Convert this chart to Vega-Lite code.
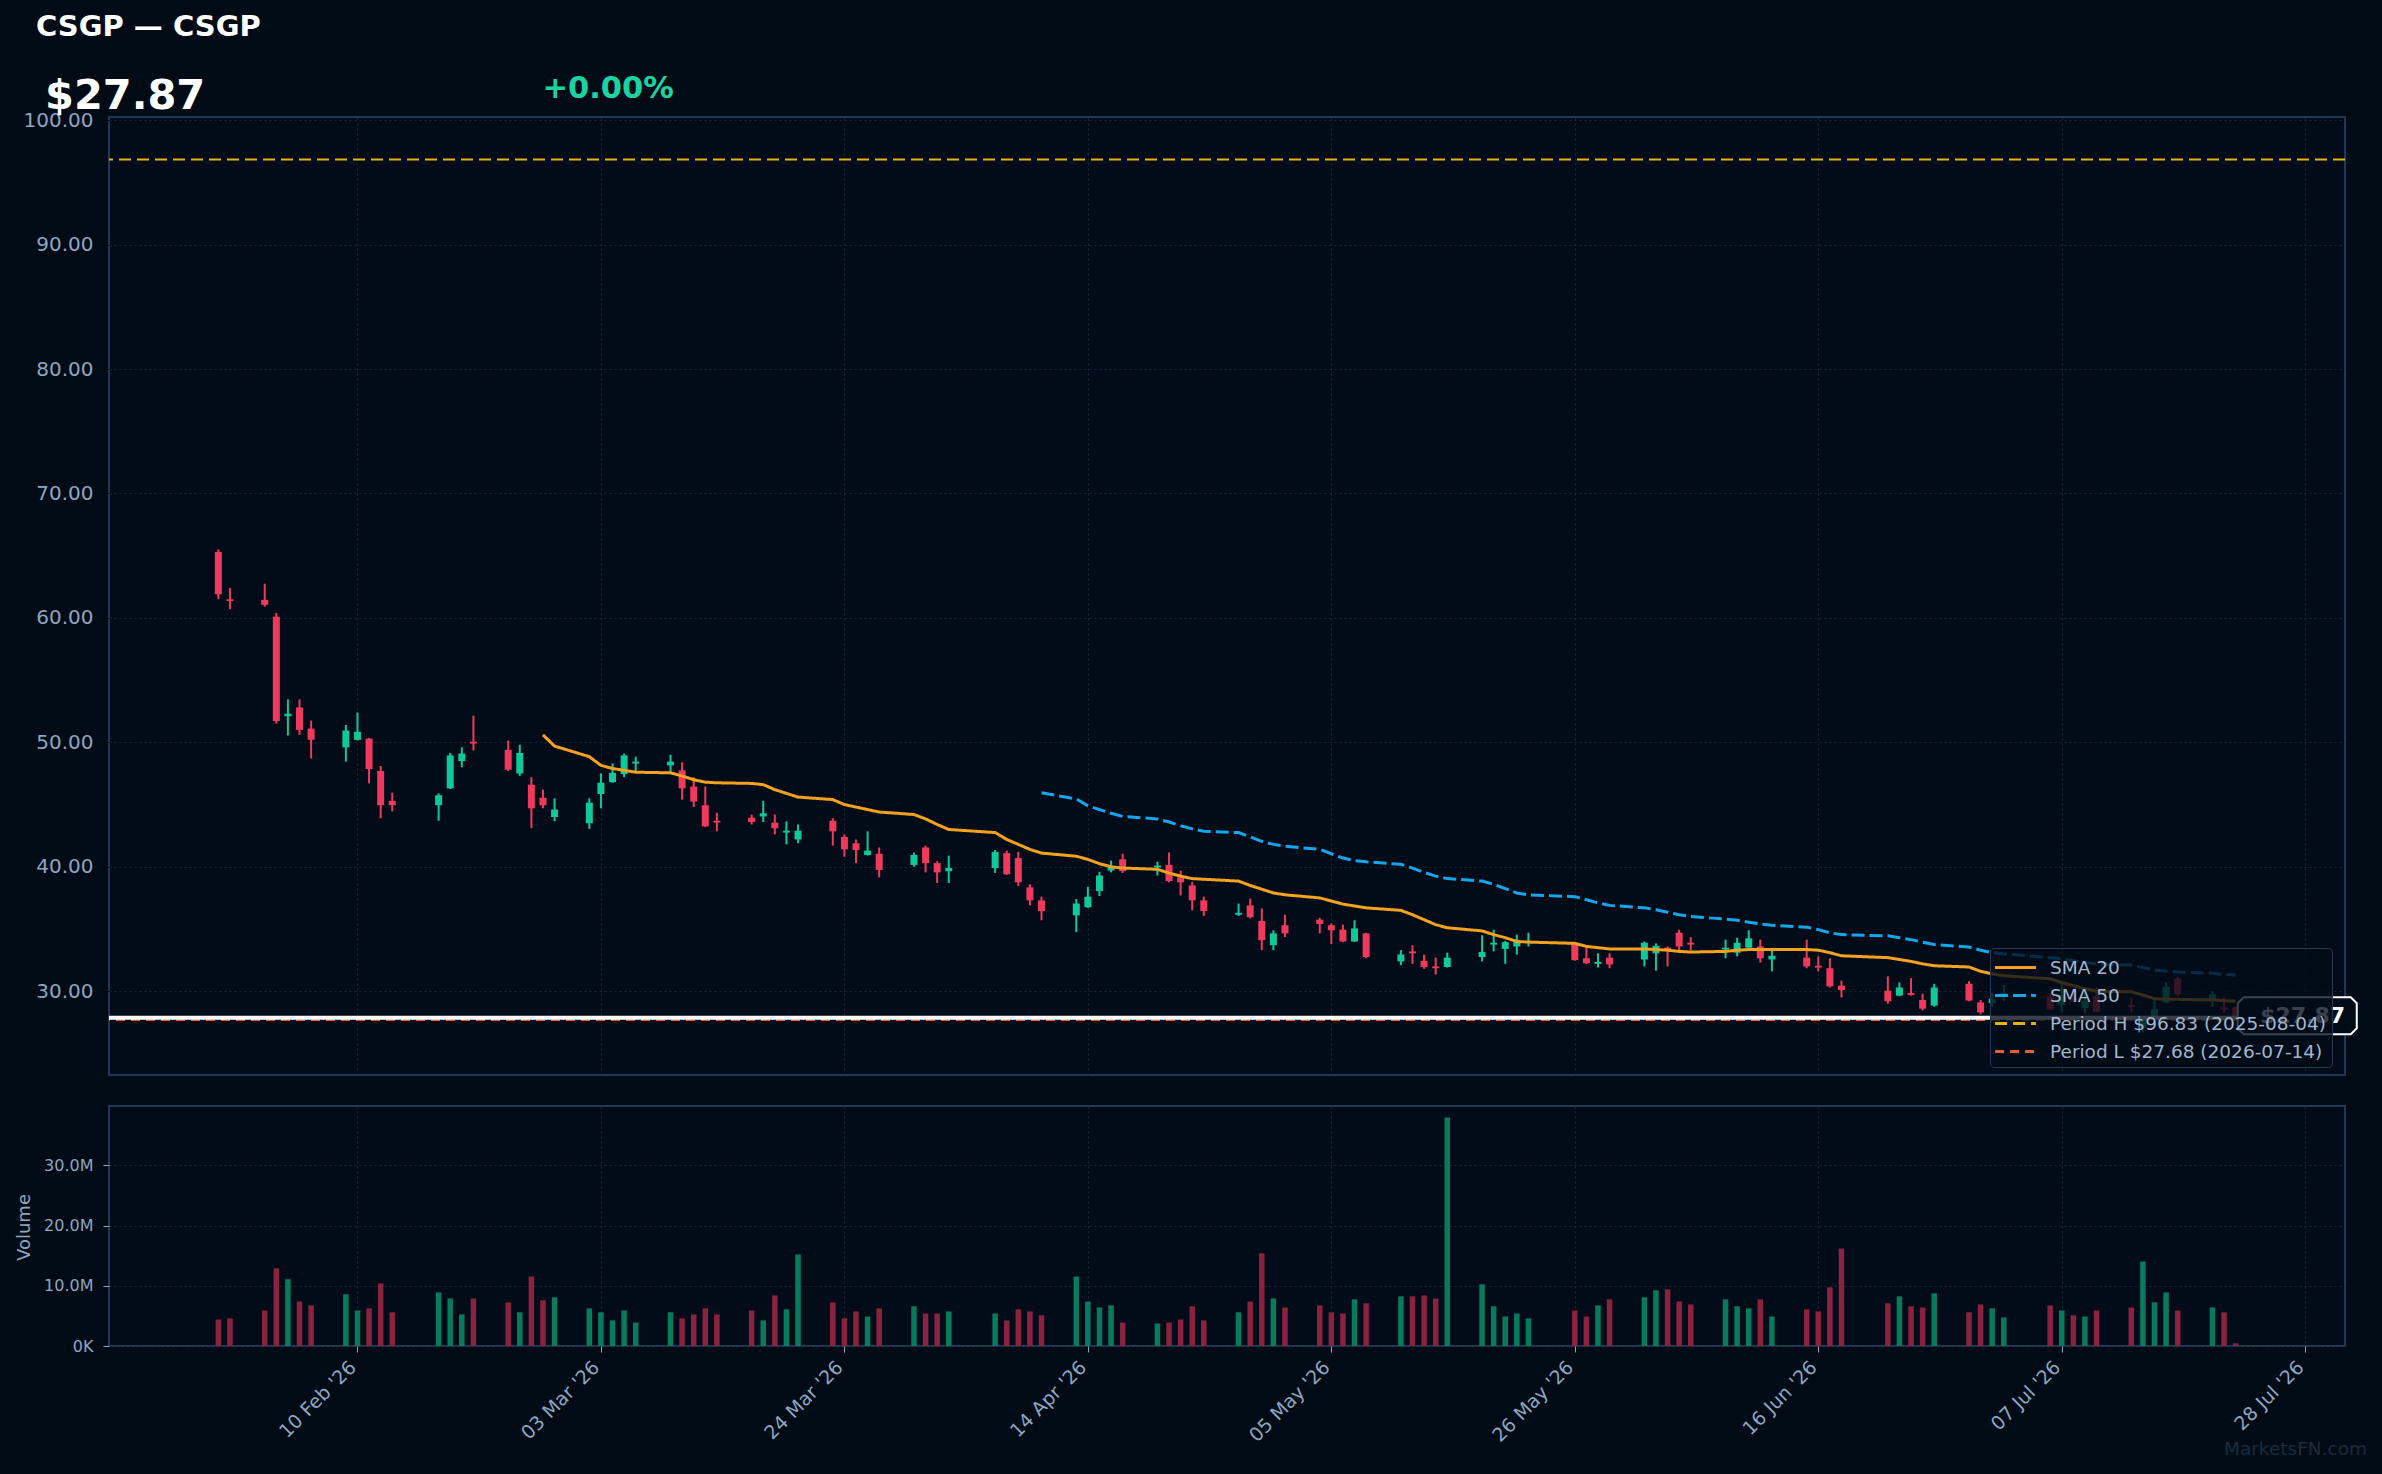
{
  "$schema": "https://vega.github.io/schema/vega-lite/v6.json",
  "background": "#010b16",
  "padding": {"left": 14, "top": 12, "right": 16, "bottom": 23},
  "title": {"text": "CSGP — CSGP", "anchor": "start", "frame": "bounds", "dx": 22, "offset": 31, "fontSize": 29, "fontWeight": "bold", "color": "#ffffff", "font": "DejaVu Sans"},
  "bounds": "flush",
  "spacing": 31,
  "resolve": {"scale": {"color": "independent", "strokeDash": "independent"}, "legend": {"color": "independent", "strokeDash": "independent"}},
  "datasets": {
    "ohlc": [
      {"date":"2026-01-29","open":65.3,"high":65.5,"low":61.5,"close":61.9,"volume":4400000},
      {"date":"2026-01-30","open":61.5,"high":62.4,"low":60.7,"close":61.35,"volume":4600000},
      {"date":"2026-02-02","open":61.45,"high":62.75,"low":60.9,"close":61.05,"volume":5900000},
      {"date":"2026-02-03","open":60.1,"high":60.4,"low":51.5,"close":51.7,"volume":12900000},
      {"date":"2026-02-04","open":52.1,"high":53.45,"low":50.55,"close":52.3,"volume":11100000},
      {"date":"2026-02-05","open":52.8,"high":53.45,"low":50.6,"close":51.0,"volume":7400000},
      {"date":"2026-02-06","open":51.1,"high":51.75,"low":48.7,"close":50.2,"volume":6750000},
      {"date":"2026-02-09","open":49.6,"high":51.4,"low":48.45,"close":50.95,"volume":8600000},
      {"date":"2026-02-10","open":50.2,"high":52.4,"low":50.15,"close":50.85,"volume":5900000},
      {"date":"2026-02-11","open":50.3,"high":50.35,"low":46.7,"close":47.85,"volume":6250000},
      {"date":"2026-02-12","open":47.7,"high":48.1,"low":43.9,"close":44.95,"volume":10400000},
      {"date":"2026-02-13","open":45.3,"high":45.95,"low":44.45,"close":44.95,"volume":5600000},
      {"date":"2026-02-17","open":44.95,"high":45.9,"low":43.7,"close":45.75,"volume":8900000},
      {"date":"2026-02-18","open":46.3,"high":49.15,"low":46.25,"close":48.95,"volume":7900000},
      {"date":"2026-02-19","open":48.5,"high":49.6,"low":48.0,"close":49.1,"volume":5250000},
      {"date":"2026-02-20","open":50.05,"high":52.15,"low":49.35,"close":49.9,"volume":7900000},
      {"date":"2026-02-23","open":49.4,"high":50.15,"low":47.7,"close":47.8,"volume":7250000},
      {"date":"2026-02-24","open":47.5,"high":49.8,"low":47.3,"close":49.15,"volume":5600000},
      {"date":"2026-02-25","open":46.6,"high":47.2,"low":43.1,"close":44.7,"volume":11550000},
      {"date":"2026-02-26","open":45.55,"high":46.2,"low":44.7,"close":44.95,"volume":7600000},
      {"date":"2026-02-27","open":44.0,"high":45.5,"low":43.65,"close":44.6,"volume":8100000},
      {"date":"2026-03-02","open":43.5,"high":45.5,"low":43.05,"close":45.15,"volume":6250000},
      {"date":"2026-03-03","open":45.85,"high":47.5,"low":44.7,"close":46.75,"volume":5600000},
      {"date":"2026-03-04","open":46.8,"high":48.3,"low":46.75,"close":47.55,"volume":4250000},
      {"date":"2026-03-05","open":47.45,"high":49.1,"low":47.2,"close":48.95,"volume":5900000},
      {"date":"2026-03-06","open":48.3,"high":48.85,"low":47.7,"close":48.45,"volume":3900000},
      {"date":"2026-03-09","open":48.15,"high":49.0,"low":47.6,"close":48.45,"volume":5600000},
      {"date":"2026-03-10","open":47.75,"high":48.4,"low":45.4,"close":46.3,"volume":4600000},
      {"date":"2026-03-11","open":46.45,"high":47.2,"low":44.8,"close":45.25,"volume":5250000},
      {"date":"2026-03-12","open":44.95,"high":46.45,"low":43.2,"close":43.25,"volume":6250000},
      {"date":"2026-03-13","open":43.7,"high":44.35,"low":42.85,"close":43.55,"volume":5250000},
      {"date":"2026-03-16","open":43.95,"high":44.2,"low":43.4,"close":43.6,"volume":5900000},
      {"date":"2026-03-17","open":44.05,"high":45.3,"low":43.6,"close":44.3,"volume":4250000},
      {"date":"2026-03-18","open":43.55,"high":44.2,"low":42.6,"close":43.1,"volume":8400000},
      {"date":"2026-03-19","open":42.75,"high":43.65,"low":41.8,"close":42.9,"volume":6100000},
      {"date":"2026-03-20","open":42.2,"high":43.4,"low":41.9,"close":42.9,"volume":15200000},
      {"date":"2026-03-23","open":43.7,"high":43.9,"low":41.7,"close":42.85,"volume":7250000},
      {"date":"2026-03-24","open":42.4,"high":42.6,"low":40.8,"close":41.4,"volume":4600000},
      {"date":"2026-03-25","open":41.9,"high":42.2,"low":40.3,"close":41.35,"volume":5750000},
      {"date":"2026-03-26","open":40.95,"high":42.85,"low":40.9,"close":41.3,"volume":4900000},
      {"date":"2026-03-27","open":41.05,"high":41.55,"low":39.15,"close":39.75,"volume":6250000},
      {"date":"2026-03-30","open":40.15,"high":41.15,"low":40.0,"close":40.95,"volume":6600000},
      {"date":"2026-03-31","open":41.55,"high":41.7,"low":39.55,"close":40.3,"volume":5400000},
      {"date":"2026-04-01","open":40.3,"high":40.45,"low":38.7,"close":39.55,"volume":5400000},
      {"date":"2026-04-02","open":39.65,"high":40.9,"low":38.7,"close":39.9,"volume":5750000},
      {"date":"2026-04-06","open":39.9,"high":41.35,"low":39.5,"close":41.2,"volume":5400000},
      {"date":"2026-04-07","open":41.1,"high":41.3,"low":39.35,"close":39.4,"volume":4250000},
      {"date":"2026-04-08","open":40.7,"high":41.2,"low":38.45,"close":38.75,"volume":6100000},
      {"date":"2026-04-09","open":38.35,"high":38.6,"low":36.9,"close":37.3,"volume":5750000},
      {"date":"2026-04-10","open":37.3,"high":37.6,"low":35.7,"close":36.45,"volume":5100000},
      {"date":"2026-04-13","open":36.1,"high":37.4,"low":34.75,"close":37.05,"volume":11550000},
      {"date":"2026-04-14","open":36.75,"high":38.4,"low":36.7,"close":37.6,"volume":7400000},
      {"date":"2026-04-15","open":38.05,"high":39.6,"low":37.65,"close":39.3,"volume":6400000},
      {"date":"2026-04-16","open":39.7,"high":40.5,"low":39.55,"close":40.0,"volume":6750000},
      {"date":"2026-04-17","open":40.6,"high":41.05,"low":39.5,"close":39.65,"volume":3900000},
      {"date":"2026-04-20","open":39.95,"high":40.4,"low":39.3,"close":40.1,"volume":3750000},
      {"date":"2026-04-21","open":40.15,"high":41.15,"low":38.75,"close":38.85,"volume":3900000},
      {"date":"2026-04-22","open":39.15,"high":39.7,"low":37.7,"close":38.75,"volume":4400000},
      {"date":"2026-04-23","open":38.5,"high":38.8,"low":36.5,"close":37.3,"volume":6600000},
      {"date":"2026-04-24","open":37.3,"high":37.6,"low":36.05,"close":36.45,"volume":4250000},
      {"date":"2026-04-27","open":36.15,"high":37.05,"low":36.05,"close":36.3,"volume":5600000},
      {"date":"2026-04-28","open":36.9,"high":37.45,"low":35.85,"close":35.95,"volume":7400000},
      {"date":"2026-04-29","open":35.65,"high":36.65,"low":33.3,"close":34.1,"volume":15400000},
      {"date":"2026-04-30","open":33.7,"high":34.9,"low":33.3,"close":34.65,"volume":7900000},
      {"date":"2026-05-01","open":35.3,"high":36.15,"low":34.35,"close":34.65,"volume":6400000},
      {"date":"2026-05-04","open":35.75,"high":35.9,"low":34.65,"close":35.4,"volume":6750000},
      {"date":"2026-05-05","open":35.3,"high":35.45,"low":33.8,"close":34.9,"volume":5600000},
      {"date":"2026-05-06","open":34.95,"high":35.35,"low":33.95,"close":34.0,"volume":5400000},
      {"date":"2026-05-07","open":34.0,"high":35.7,"low":33.95,"close":35.05,"volume":7750000},
      {"date":"2026-05-08","open":34.65,"high":34.7,"low":32.65,"close":32.75,"volume":7100000},
      {"date":"2026-05-11","open":32.4,"high":33.3,"low":32.1,"close":32.95,"volume":8250000},
      {"date":"2026-05-12","open":33.2,"high":33.7,"low":32.2,"close":33.05,"volume":8250000},
      {"date":"2026-05-13","open":32.45,"high":32.95,"low":31.8,"close":31.95,"volume":8400000},
      {"date":"2026-05-14","open":32.0,"high":32.7,"low":31.35,"close":31.85,"volume":7900000},
      {"date":"2026-05-15","open":31.95,"high":33.1,"low":31.9,"close":32.7,"volume":37950000},
      {"date":"2026-05-18","open":32.75,"high":34.5,"low":32.4,"close":33.15,"volume":10250000},
      {"date":"2026-05-19","open":33.75,"high":34.95,"low":33.2,"close":33.9,"volume":6600000},
      {"date":"2026-05-20","open":33.4,"high":34.05,"low":32.2,"close":33.95,"volume":4900000},
      {"date":"2026-05-21","open":33.6,"high":34.55,"low":32.95,"close":33.95,"volume":5400000},
      {"date":"2026-05-22","open":33.9,"high":34.7,"low":33.6,"close":34.05,"volume":4600000},
      {"date":"2026-05-26","open":33.8,"high":33.9,"low":32.45,"close":32.5,"volume":5900000},
      {"date":"2026-05-27","open":32.65,"high":33.5,"low":32.2,"close":32.25,"volume":4900000},
      {"date":"2026-05-28","open":32.2,"high":33.05,"low":31.9,"close":32.35,"volume":6750000},
      {"date":"2026-05-29","open":32.7,"high":33.05,"low":31.85,"close":32.15,"volume":7750000},
      {"date":"2026-06-01","open":32.55,"high":34.0,"low":32.0,"close":33.9,"volume":8100000},
      {"date":"2026-06-02","open":33.05,"high":33.85,"low":31.65,"close":33.65,"volume":9250000},
      {"date":"2026-06-03","open":33.5,"high":33.6,"low":32.0,"close":33.35,"volume":9400000},
      {"date":"2026-06-04","open":34.7,"high":34.95,"low":33.3,"close":33.6,"volume":7400000},
      {"date":"2026-06-05","open":33.9,"high":34.35,"low":33.3,"close":33.75,"volume":6900000},
      {"date":"2026-06-08","open":33.35,"high":34.15,"low":32.65,"close":33.5,"volume":7750000},
      {"date":"2026-06-09","open":33.1,"high":34.3,"low":32.8,"close":33.9,"volume":6600000},
      {"date":"2026-06-10","open":33.5,"high":34.9,"low":33.5,"close":34.25,"volume":6250000},
      {"date":"2026-06-11","open":33.6,"high":34.15,"low":32.3,"close":32.65,"volume":7750000},
      {"date":"2026-06-12","open":32.55,"high":33.3,"low":31.6,"close":32.85,"volume":4900000},
      {"date":"2026-06-15","open":32.7,"high":34.15,"low":31.85,"close":32.0,"volume":6100000},
      {"date":"2026-06-16","open":32.05,"high":32.8,"low":31.6,"close":31.9,"volume":5750000},
      {"date":"2026-06-17","open":31.85,"high":32.65,"low":30.3,"close":30.4,"volume":9750000},
      {"date":"2026-06-18","open":30.45,"high":30.85,"low":29.5,"close":30.1,"volume":16200000},
      {"date":"2026-06-22","open":30.05,"high":31.2,"low":29.0,"close":29.2,"volume":7100000},
      {"date":"2026-06-23","open":29.65,"high":30.7,"low":29.6,"close":30.3,"volume":8250000},
      {"date":"2026-06-24","open":29.85,"high":31.05,"low":29.65,"close":29.7,"volume":6600000},
      {"date":"2026-06-25","open":29.3,"high":29.8,"low":28.45,"close":28.6,"volume":6400000},
      {"date":"2026-06-26","open":28.85,"high":30.6,"low":28.75,"close":30.3,"volume":8750000},
      {"date":"2026-06-29","open":30.6,"high":30.8,"low":29.2,"close":29.25,"volume":5600000},
      {"date":"2026-06-30","open":29.1,"high":29.3,"low":28.15,"close":28.3,"volume":6900000},
      {"date":"2026-07-01","open":29.05,"high":29.9,"low":28.75,"close":29.4,"volume":6250000},
      {"date":"2026-07-02","open":29.55,"high":30.5,"low":29.2,"close":29.9,"volume":4750000},
      {"date":"2026-07-06","open":29.6,"high":29.85,"low":28.5,"close":28.55,"volume":6750000},
      {"date":"2026-07-07","open":28.9,"high":30.65,"low":28.3,"close":29.7,"volume":5900000},
      {"date":"2026-07-08","open":29.45,"high":30.0,"low":29.1,"close":29.2,"volume":5100000},
      {"date":"2026-07-09","open":28.65,"high":30.0,"low":28.25,"close":29.25,"volume":4900000},
      {"date":"2026-07-10","open":29.6,"high":30.3,"low":28.3,"close":28.35,"volume":5900000},
      {"date":"2026-07-13","open":28.9,"high":29.5,"low":28.3,"close":28.75,"volume":6400000},
      {"date":"2026-07-14","open":27.05,"high":27.75,"low":26.7,"close":27.68,"volume":14050000},
      {"date":"2026-07-15","open":28.0,"high":29.35,"low":27.95,"close":28.55,"volume":7250000},
      {"date":"2026-07-16","open":29.1,"high":30.7,"low":29.05,"close":30.35,"volume":8900000},
      {"date":"2026-07-17","open":31.0,"high":31.15,"low":29.6,"close":29.75,"volume":5900000},
      {"date":"2026-07-20","open":29.35,"high":30.0,"low":28.75,"close":29.75,"volume":6400000},
      {"date":"2026-07-21","open":28.7,"high":29.5,"low":28.3,"close":28.55,"volume":5600000},
      {"date":"2026-07-22","open":28.7,"high":28.75,"low":27.8,"close":27.87,"volume":450000}
    ],
    "sma": [
      {"date":"2026-02-26","series":"SMA 20","value":50.6},
      {"date":"2026-02-27","series":"SMA 20","value":49.7},
      {"date":"2026-03-02","series":"SMA 20","value":48.85},
      {"date":"2026-03-03","series":"SMA 20","value":48.15},
      {"date":"2026-03-04","series":"SMA 20","value":47.9},
      {"date":"2026-03-05","series":"SMA 20","value":47.75},
      {"date":"2026-03-06","series":"SMA 20","value":47.6},
      {"date":"2026-03-09","series":"SMA 20","value":47.55},
      {"date":"2026-03-10","series":"SMA 20","value":47.3},
      {"date":"2026-03-11","series":"SMA 20","value":47.0},
      {"date":"2026-03-12","series":"SMA 20","value":46.8},
      {"date":"2026-03-13","series":"SMA 20","value":46.75},
      {"date":"2026-03-16","series":"SMA 20","value":46.7},
      {"date":"2026-03-17","series":"SMA 20","value":46.6},
      {"date":"2026-03-18","series":"SMA 20","value":46.2},
      {"date":"2026-03-19","series":"SMA 20","value":45.9},
      {"date":"2026-03-20","series":"SMA 20","value":45.6},
      {"date":"2026-03-23","series":"SMA 20","value":45.4},
      {"date":"2026-03-24","series":"SMA 20","value":45.0},
      {"date":"2026-03-25","series":"SMA 20","value":44.8},
      {"date":"2026-03-26","series":"SMA 20","value":44.6},
      {"date":"2026-03-27","series":"SMA 20","value":44.4},
      {"date":"2026-03-30","series":"SMA 20","value":44.2},
      {"date":"2026-03-31","series":"SMA 20","value":43.85},
      {"date":"2026-04-01","series":"SMA 20","value":43.4},
      {"date":"2026-04-02","series":"SMA 20","value":43.0},
      {"date":"2026-04-06","series":"SMA 20","value":42.75},
      {"date":"2026-04-07","series":"SMA 20","value":42.2},
      {"date":"2026-04-08","series":"SMA 20","value":41.8},
      {"date":"2026-04-09","series":"SMA 20","value":41.4},
      {"date":"2026-04-10","series":"SMA 20","value":41.1},
      {"date":"2026-04-13","series":"SMA 20","value":40.85},
      {"date":"2026-04-14","series":"SMA 20","value":40.6},
      {"date":"2026-04-15","series":"SMA 20","value":40.25},
      {"date":"2026-04-16","series":"SMA 20","value":40.0},
      {"date":"2026-04-17","series":"SMA 20","value":39.9},
      {"date":"2026-04-20","series":"SMA 20","value":39.8},
      {"date":"2026-04-21","series":"SMA 20","value":39.5},
      {"date":"2026-04-22","series":"SMA 20","value":39.25},
      {"date":"2026-04-23","series":"SMA 20","value":39.05},
      {"date":"2026-04-24","series":"SMA 20","value":39.0},
      {"date":"2026-04-27","series":"SMA 20","value":38.85},
      {"date":"2026-04-28","series":"SMA 20","value":38.5},
      {"date":"2026-04-29","series":"SMA 20","value":38.2},
      {"date":"2026-04-30","series":"SMA 20","value":37.9},
      {"date":"2026-05-01","series":"SMA 20","value":37.75},
      {"date":"2026-05-04","series":"SMA 20","value":37.5},
      {"date":"2026-05-05","series":"SMA 20","value":37.25},
      {"date":"2026-05-06","series":"SMA 20","value":37.0},
      {"date":"2026-05-07","series":"SMA 20","value":36.85},
      {"date":"2026-05-08","series":"SMA 20","value":36.7},
      {"date":"2026-05-11","series":"SMA 20","value":36.5},
      {"date":"2026-05-12","series":"SMA 20","value":36.15},
      {"date":"2026-05-13","series":"SMA 20","value":35.75},
      {"date":"2026-05-14","series":"SMA 20","value":35.35},
      {"date":"2026-05-15","series":"SMA 20","value":35.1},
      {"date":"2026-05-18","series":"SMA 20","value":34.85},
      {"date":"2026-05-19","series":"SMA 20","value":34.55},
      {"date":"2026-05-20","series":"SMA 20","value":34.3},
      {"date":"2026-05-21","series":"SMA 20","value":34.0},
      {"date":"2026-05-22","series":"SMA 20","value":33.95},
      {"date":"2026-05-26","series":"SMA 20","value":33.85},
      {"date":"2026-05-27","series":"SMA 20","value":33.6},
      {"date":"2026-05-28","series":"SMA 20","value":33.5},
      {"date":"2026-05-29","series":"SMA 20","value":33.4},
      {"date":"2026-06-01","series":"SMA 20","value":33.4},
      {"date":"2026-06-02","series":"SMA 20","value":33.35},
      {"date":"2026-06-03","series":"SMA 20","value":33.3},
      {"date":"2026-06-04","series":"SMA 20","value":33.2},
      {"date":"2026-06-05","series":"SMA 20","value":33.15},
      {"date":"2026-06-08","series":"SMA 20","value":33.2},
      {"date":"2026-06-09","series":"SMA 20","value":33.3},
      {"date":"2026-06-10","series":"SMA 20","value":33.35},
      {"date":"2026-06-11","series":"SMA 20","value":33.35},
      {"date":"2026-06-12","series":"SMA 20","value":33.35},
      {"date":"2026-06-15","series":"SMA 20","value":33.35},
      {"date":"2026-06-16","series":"SMA 20","value":33.3},
      {"date":"2026-06-17","series":"SMA 20","value":33.1},
      {"date":"2026-06-18","series":"SMA 20","value":32.85},
      {"date":"2026-06-22","series":"SMA 20","value":32.7},
      {"date":"2026-06-23","series":"SMA 20","value":32.55},
      {"date":"2026-06-24","series":"SMA 20","value":32.4},
      {"date":"2026-06-25","series":"SMA 20","value":32.2},
      {"date":"2026-06-26","series":"SMA 20","value":32.05},
      {"date":"2026-06-29","series":"SMA 20","value":31.95},
      {"date":"2026-06-30","series":"SMA 20","value":31.6},
      {"date":"2026-07-01","series":"SMA 20","value":31.4},
      {"date":"2026-07-02","series":"SMA 20","value":31.25},
      {"date":"2026-07-06","series":"SMA 20","value":31.0},
      {"date":"2026-07-07","series":"SMA 20","value":30.7},
      {"date":"2026-07-08","series":"SMA 20","value":30.45},
      {"date":"2026-07-09","series":"SMA 20","value":30.2},
      {"date":"2026-07-10","series":"SMA 20","value":30.0},
      {"date":"2026-07-13","series":"SMA 20","value":29.95},
      {"date":"2026-07-14","series":"SMA 20","value":29.7},
      {"date":"2026-07-15","series":"SMA 20","value":29.4},
      {"date":"2026-07-16","series":"SMA 20","value":29.35},
      {"date":"2026-07-17","series":"SMA 20","value":29.35},
      {"date":"2026-07-20","series":"SMA 20","value":29.3},
      {"date":"2026-07-21","series":"SMA 20","value":29.25},
      {"date":"2026-07-22","series":"SMA 20","value":29.2},
      {"date":"2026-04-10","series":"SMA 50","value":45.95},
      {"date":"2026-04-13","series":"SMA 50","value":45.45},
      {"date":"2026-04-14","series":"SMA 50","value":44.9},
      {"date":"2026-04-15","series":"SMA 50","value":44.6},
      {"date":"2026-04-16","series":"SMA 50","value":44.3},
      {"date":"2026-04-17","series":"SMA 50","value":44.05},
      {"date":"2026-04-20","series":"SMA 50","value":43.85},
      {"date":"2026-04-21","series":"SMA 50","value":43.6},
      {"date":"2026-04-22","series":"SMA 50","value":43.3},
      {"date":"2026-04-23","series":"SMA 50","value":43.05},
      {"date":"2026-04-24","series":"SMA 50","value":42.85},
      {"date":"2026-04-27","series":"SMA 50","value":42.75},
      {"date":"2026-04-28","series":"SMA 50","value":42.4},
      {"date":"2026-04-29","series":"SMA 50","value":42.05},
      {"date":"2026-04-30","series":"SMA 50","value":41.8},
      {"date":"2026-05-01","series":"SMA 50","value":41.65},
      {"date":"2026-05-04","series":"SMA 50","value":41.4},
      {"date":"2026-05-05","series":"SMA 50","value":41.05},
      {"date":"2026-05-06","series":"SMA 50","value":40.7},
      {"date":"2026-05-07","series":"SMA 50","value":40.5},
      {"date":"2026-05-08","series":"SMA 50","value":40.4},
      {"date":"2026-05-11","series":"SMA 50","value":40.2},
      {"date":"2026-05-12","series":"SMA 50","value":39.9},
      {"date":"2026-05-13","series":"SMA 50","value":39.55},
      {"date":"2026-05-14","series":"SMA 50","value":39.25},
      {"date":"2026-05-15","series":"SMA 50","value":39.05},
      {"date":"2026-05-18","series":"SMA 50","value":38.85},
      {"date":"2026-05-19","series":"SMA 50","value":38.6},
      {"date":"2026-05-20","series":"SMA 50","value":38.25},
      {"date":"2026-05-21","series":"SMA 50","value":37.9},
      {"date":"2026-05-22","series":"SMA 50","value":37.75},
      {"date":"2026-05-26","series":"SMA 50","value":37.6},
      {"date":"2026-05-27","series":"SMA 50","value":37.35},
      {"date":"2026-05-28","series":"SMA 50","value":37.1},
      {"date":"2026-05-29","series":"SMA 50","value":36.9},
      {"date":"2026-06-01","series":"SMA 50","value":36.7},
      {"date":"2026-06-02","series":"SMA 50","value":36.55},
      {"date":"2026-06-03","series":"SMA 50","value":36.35},
      {"date":"2026-06-04","series":"SMA 50","value":36.15},
      {"date":"2026-06-05","series":"SMA 50","value":36.0},
      {"date":"2026-06-08","series":"SMA 50","value":35.8},
      {"date":"2026-06-09","series":"SMA 50","value":35.7},
      {"date":"2026-06-10","series":"SMA 50","value":35.55},
      {"date":"2026-06-11","series":"SMA 50","value":35.4},
      {"date":"2026-06-12","series":"SMA 50","value":35.3},
      {"date":"2026-06-15","series":"SMA 50","value":35.15},
      {"date":"2026-06-16","series":"SMA 50","value":34.95},
      {"date":"2026-06-17","series":"SMA 50","value":34.7},
      {"date":"2026-06-18","series":"SMA 50","value":34.55},
      {"date":"2026-06-22","series":"SMA 50","value":34.45},
      {"date":"2026-06-23","series":"SMA 50","value":34.3},
      {"date":"2026-06-24","series":"SMA 50","value":34.15},
      {"date":"2026-06-25","series":"SMA 50","value":33.95},
      {"date":"2026-06-26","series":"SMA 50","value":33.75},
      {"date":"2026-06-29","series":"SMA 50","value":33.55},
      {"date":"2026-06-30","series":"SMA 50","value":33.3},
      {"date":"2026-07-01","series":"SMA 50","value":33.1},
      {"date":"2026-07-02","series":"SMA 50","value":33.0},
      {"date":"2026-07-06","series":"SMA 50","value":32.7},
      {"date":"2026-07-07","series":"SMA 50","value":32.6},
      {"date":"2026-07-08","series":"SMA 50","value":32.45},
      {"date":"2026-07-09","series":"SMA 50","value":32.3},
      {"date":"2026-07-10","series":"SMA 50","value":32.2},
      {"date":"2026-07-13","series":"SMA 50","value":32.1},
      {"date":"2026-07-14","series":"SMA 50","value":31.9},
      {"date":"2026-07-15","series":"SMA 50","value":31.7},
      {"date":"2026-07-16","series":"SMA 50","value":31.6},
      {"date":"2026-07-17","series":"SMA 50","value":31.55},
      {"date":"2026-07-20","series":"SMA 50","value":31.45},
      {"date":"2026-07-21","series":"SMA 50","value":31.35},
      {"date":"2026-07-22","series":"SMA 50","value":31.3}
    ],
    "levels": [
      {"series":"Period H $96.83 (2025-08-04)","value":96.83},
      {"series":"Period L $27.68 (2026-07-14)","value":27.68}
    ],
    "last": [
      {"date":"2026-07-22","close":27.87}
    ]
  },
  "vconcat": [
    {
      "width": 2236,
      "height": 958,
      "layer": [
        {
          "data": {"name": "ohlc"},
          "mark": {"type": "rule", "strokeWidth": 2},
          "encoding": {
            "x": {
              "field": "date", "type": "temporal",
              "scale": {"type": "utc", "domain": [{"year": 2026, "month": 1, "date": 20, "utc": true}, {"year": 2026, "month": 7, "date": 31, "utc": true}]},
              "axis": {
                "orient": "top",
                "values": [{"year":2026,"month":2,"date":10,"utc":true},{"year":2026,"month":3,"date":3,"utc":true},{"year":2026,"month":3,"date":24,"utc":true},{"year":2026,"month":4,"date":14,"utc":true},{"year":2026,"month":5,"date":5,"utc":true},{"year":2026,"month":5,"date":26,"utc":true},{"year":2026,"month":6,"date":16,"utc":true},{"year":2026,"month":7,"date":7,"utc":true},{"year":2026,"month":7,"date":28,"utc":true}],
                "labels": false, "ticks": false, "domain": false, "grid": true,
                "title": "+0.00%", "titleX": 433, "titleY": -19.3, "titleAngle": 0,
                "titleAlign": "left", "titleBaseline": "alphabetic",
                "titleFontSize": 30.5, "titleFontWeight": "bold", "titleColor": "#19d3a2"
              }
            },
            "y": {
              "field": "low", "type": "quantitative",
              "scale": {"domain": [23.27, 100.25], "nice": false, "zero": false},
              "axis": {
                "values": [30, 40, 50, 60, 70, 80, 90, 100],
                "format": ".2f", "labelFontSize": 20, "labelPadding": 9,
                "tickSize": 7, "tickColor": "#000000", "grid": true,
                "title": "$27.87", "titleX": -64.5, "titleY": -9, "titleAngle": 0,
                "titleAlign": "left", "titleBaseline": "alphabetic",
                "titleFontSize": 41.5, "titleFontWeight": "bold", "titleColor": "#ffffff"
              }
            },
            "y2": {"field": "high"},
            "color": {"condition": {"test": "datum.close >= datum.open", "value": "#0fc99a"}, "value": "#f0395d"}
          }
        },
        {
          "data": {"name": "ohlc"},
          "mark": {"type": "bar", "size": 7},
          "encoding": {
            "x": {"field": "date", "type": "temporal"},
            "y": {"field": "open", "type": "quantitative"},
            "y2": {"field": "close"},
            "color": {"condition": {"test": "datum.close >= datum.open", "value": "#0fc99a"}, "value": "#f0395d"}
          }
        },
        {
          "data": {"name": "sma"},
          "mark": {"type": "line", "strokeWidth": 3},
          "encoding": {
            "x": {"field": "date", "type": "temporal"},
            "y": {"field": "value", "type": "quantitative"},
            "color": {
              "field": "series", "type": "nominal",
              "scale": {"domain": ["SMA 20", "SMA 50", "Period H $96.83 (2025-08-04)", "Period L $27.68 (2026-07-14)"], "range": ["#f5a21e", "#12a6ec", "#e3b50c", "#e4622f"]},
              "legend": {"orient": "none", "legendX": 1881, "legendY": 831, "title": null, "symbolType": "M-1.2,0L2.2,0", "symbolSize": 576, "symbolStrokeWidth": 3, "labelFontSize": 18.5, "labelColor": "#a3b7cc", "labelOffset": 27, "padding": 6, "rowPadding": 5, "fillColor": "rgba(2,12,24,0.78)", "strokeColor": "#223a56", "cornerRadius": 4, "labelLimit": 400}
            },
            "strokeDash": {
              "field": "series", "type": "nominal",
              "scale": {"domain": ["SMA 20", "SMA 50", "Period H $96.83 (2025-08-04)", "Period L $27.68 (2026-07-14)"], "range": [[1, 0], [13, 5], [12, 6], [9, 6]]},
              "legend": {"orient": "none", "legendX": 1881, "legendY": 831, "title": null, "symbolType": "M-1.2,0L2.2,0", "symbolSize": 576, "symbolStrokeWidth": 3, "labelFontSize": 18.5, "labelColor": "#a3b7cc", "labelOffset": 27, "padding": 6, "rowPadding": 5, "fillColor": "rgba(2,12,24,0.78)", "strokeColor": "#223a56", "cornerRadius": 4, "labelLimit": 400}
            }
          }
        },
        {
          "data": {"name": "levels"},
          "mark": {"type": "rule", "strokeWidth": 2},
          "encoding": {
            "y": {"field": "value", "type": "quantitative"},
            "color": {"field": "series", "type": "nominal"},
            "strokeDash": {"field": "series", "type": "nominal"}
          }
        },
        {
          "data": {"name": "last"},
          "mark": {"type": "rule", "color": "#ffffff", "strokeWidth": 4},
          "encoding": {
            "y": {"field": "close", "type": "quantitative"}
          }
        },
        {
          "data": {"name": "last"},
          "mark": {"type": "point", "shape": "M-0.9,-0.31L0.9,-0.31L1,-0.21L1,0.21L0.9,0.31L-0.9,0.31L-1,0.21L-1,-0.21Z", "size": 14161, "fill": "#020c18", "stroke": "#ffffff", "strokeWidth": 2, "opacity": 1, "fillOpacity": 1, "xOffset": 61.6, "yOffset": -2},
          "encoding": {
            "x": {"field": "date", "type": "temporal"},
            "y": {"field": "close", "type": "quantitative"}
          }
        },
        {
          "data": {"name": "last"},
          "mark": {"type": "text", "dx": 67, "dy": -2, "align": "center", "baseline": "middle", "fontSize": 22, "fontWeight": "bold", "color": "#ffffff"},
          "encoding": {
            "x": {"field": "date", "type": "temporal"},
            "y": {"field": "close", "type": "quantitative"},
            "text": {"field": "close", "type": "quantitative", "format": "$.2f"}
          }
        }
      ]
    },
    {
      "width": 2236,
      "height": 240,
      "data": {"name": "ohlc"},
      "mark": {"type": "bar", "size": 5.5},
      "encoding": {
        "x": {
          "field": "date", "type": "temporal",
          "scale": {"type": "utc", "domain": [{"year": 2026, "month": 1, "date": 20, "utc": true}, {"year": 2026, "month": 7, "date": 31, "utc": true}]},
          "axis": {
            "values": [{"year":2026,"month":2,"date":10,"utc":true},{"year":2026,"month":3,"date":3,"utc":true},{"year":2026,"month":3,"date":24,"utc":true},{"year":2026,"month":4,"date":14,"utc":true},{"year":2026,"month":5,"date":5,"utc":true},{"year":2026,"month":5,"date":26,"utc":true},{"year":2026,"month":6,"date":16,"utc":true},{"year":2026,"month":7,"date":7,"utc":true},{"year":2026,"month":7,"date":28,"utc":true}],
            "format": "%d %b '%y", "labelAngle": -45, "labelAlign": "right", "labelBaseline": "middle",
            "labelFontSize": 19, "labelPadding": 12, "labelOffset": -5, "labelOverlap": false, "labelBound": false, "labelFlush": false,
            "tickSize": 6, "grid": true,
            "title": "MarketsFN.com", "titleX": 2186, "titleY": 102, "titleAngle": 0,
            "titleAlign": "center", "titleBaseline": "middle",
            "titleFontSize": 18.5, "titleFontWeight": "normal", "titleColor": "#1a2b3e"
          }
        },
        "y": {
          "field": "volume", "type": "quantitative",
          "scale": {"domain": [0, 39870000], "nice": false},
          "axis": {
            "values": [0, 10000000, 20000000, 30000000],
            "labelExpr": "datum.value >= 1000000 ? format(datum.value / 1000000, '.1f') + 'M' : format(datum.value / 1000, '.0f') + 'K'",
            "labelFontSize": 16, "labelPadding": 10, "tickSize": 6, "grid": true,
            "title": "Volume", "titleX": -85, "titleY": 121, "titleAngle": 270,
            "titleAlign": "center", "titleBaseline": "middle",
            "titleFontSize": 18, "titleFontWeight": "normal"
          }
        },
        "color": {"condition": {"test": "datum.close >= datum.open", "value": "#087a5e"}, "value": "#8a2240"}
      }
    }
  ],
  "config": {
    "font": "DejaVu Sans",
    "view": {"fill": "#020c18", "stroke": "#1f3853", "strokeWidth": 2},
    "axis": {"labelColor": "#8ea6c0", "titleColor": "#8ea6c0", "gridColor": "#17283a", "gridDash": [2, 3], "gridWidth": 1, "domain": false, "tickColor": "#8ea6c0", "labelFlush": false, "labelFont": "DejaVu Sans", "titleFont": "DejaVu Sans"},
    "legend": {"labelFont": "DejaVu Sans"}
  }
}
